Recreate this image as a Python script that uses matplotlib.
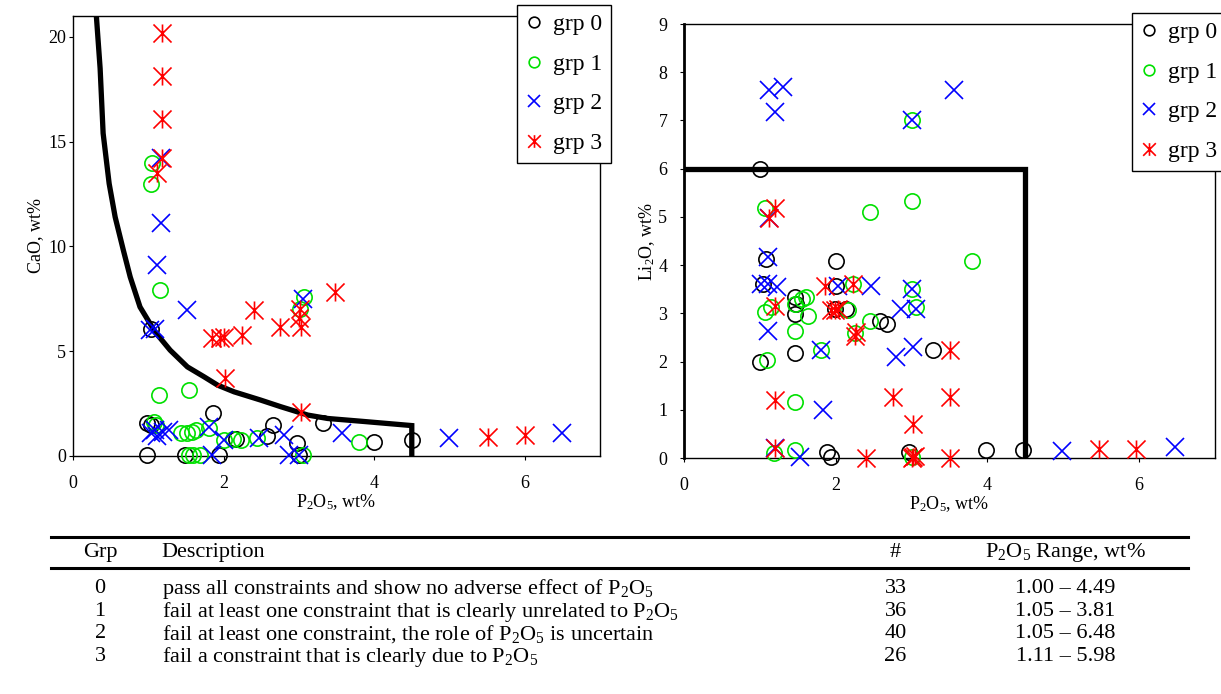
import numpy as np
import matplotlib.pyplot as plt
from matplotlib.path import Path
from matplotlib.lines import Line2D

plt.rcParams['font.family'] = ['Liberation Serif', 'DejaVu Serif']
plt.rcParams['mathtext.default'] = 'regular'

# CaO vs P2O5, by group
cao_x0 = [1.03, 0.98, 1.03, 0.98, 1.49, 1.86, 1.94, 2.17, 2.58, 2.66, 2.98, 3.0, 3.32, 4.0, 4.5]
cao_y0 = [6.08, 1.55, 1.5, 0.05, 0.05, 2.05, 0.05, 0.8, 0.95, 1.5, 0.6, 0.05, 1.56, 0.68, 0.76]
cao_x1 = [1.05, 1.04, 1.16, 1.14, 1.54, 1.07, 1.1, 1.43, 1.51, 1.58, 1.63, 1.8, 2.0, 2.12,
          2.23, 2.45, 1.54, 1.6, 1.69, 3.07, 3.02, 3.05, 3.8]
cao_y1 = [14.0, 13.0, 7.94, 2.9, 3.14, 1.63, 1.5, 1.11, 1.1, 1.15, 1.24, 1.32, 0.76, 0.8,
          0.76, 0.84, 0.05, 0.05, 0.05, 7.59, 7.03, 0.05, 0.68]
cao_x2 = [1.17, 1.17, 1.12, 1.51, 1.09, 1.02, 1.03, 1.09, 1.2, 1.27, 1.12, 1.8, 1.85, 2.0,
          2.47, 2.8, 2.87, 3.0, 3.05, 3.57, 5.0, 6.5]
cao_y2 = [14.2, 11.1, 9.1, 6.98, 6.08, 6.0, 1.08, 1.24, 1.16, 1.24, 0.95, 1.4, 0.05, 0.76,
          0.84, 1.0, 0.05, 0.05, 7.5, 1.11, 0.84, 1.08]
cao_x3 = [1.18, 1.18, 1.18, 1.18, 1.12, 2.4, 2.75, 3.01, 3.0, 3.03, 2.25, 1.95, 1.85, 2.0,
          2.02, 3.03, 3.48, 5.51, 6.0]
cao_y3 = [20.2, 18.15, 16.1, 14.2, 13.5, 6.98, 6.16, 7.03, 6.6, 6.16, 5.76, 5.65, 5.65, 5.68,
          3.7, 2.11, 7.82, 0.89, 1.0]

# Li2O vs P2O5, by group
li_x0 = [1.0, 1.08, 2.01, 1.04, 2.01, 1.46, 1.48, 1.46, 1.99, 2.14, 2.58, 2.67, 3.28, 1.0,
         1.46, 1.88, 1.94, 2.97, 3.98, 4.47]
li_y0 = [6.0, 4.13, 4.08, 3.61, 3.57, 3.33, 3.2, 2.99, 3.1, 3.1, 2.84, 2.78, 2.25, 1.99,
         2.18, 0.13, 0.03, 0.13, 0.17, 0.17]
li_x1 = [3.0, 1.07, 2.45, 3.0, 2.23, 3.0, 1.55, 1.61, 1.07, 1.15, 1.46, 1.64, 2.16, 3.06,
         2.45, 1.46, 1.09, 1.81, 1.46, 1.18, 1.46, 3.0, 3.8, 2.25]
li_y1 = [7.0, 5.18, 5.1, 5.32, 3.6, 3.5, 3.3, 3.33, 3.02, 3.13, 3.2, 2.95, 3.07, 3.13,
         2.85, 2.64, 2.03, 2.23, 1.16, 0.1, 0.17, 0.03, 4.09, 2.6]
li_x2 = [1.12, 1.31, 1.2, 3.0, 3.56, 1.12, 1.11, 1.02, 1.11, 1.22, 2.03, 2.47, 3.0, 2.86,
         3.06, 1.11, 3.02, 2.8, 1.81, 1.83, 1.2, 1.53, 4.98, 6.47]
li_y2 = [7.64, 7.69, 7.17, 7.0, 7.64, 4.98, 4.16, 3.61, 3.61, 3.54, 3.57, 3.57, 3.5, 3.09,
         3.1, 2.64, 2.3, 2.09, 2.23, 1.0, 0.2, 0.03, 0.14, 0.22]
li_x3 = [1.2, 1.12, 1.86, 2.23, 1.2, 1.94, 1.99, 2.03, 2.25, 2.27, 1.2, 2.75, 3.02, 3.5,
         3.5, 1.2, 2.4, 3.0, 3.02, 3.04, 3.5, 5.47, 5.96]
li_y3 = [5.19, 4.98, 3.57, 3.61, 3.16, 3.06, 3.06, 3.1, 2.54, 2.62, 1.2, 1.27, 0.7, 2.25,
         1.27, 0.2, 0.0, 0.0, 0.02, 0.05, 0.0, 0.18, 0.18]

# constraint boundaries
cao_lim_x = [0.31, 0.36, 0.40, 0.48, 0.56, 0.67, 0.76, 0.89, 1.09, 1.29, 1.52, 1.74, 1.92,
             2.14, 2.49, 2.76, 3.12, 3.38, 3.85, 4.5, 4.5]
cao_lim_y = [21.0, 18.5, 15.4, 13.0, 11.4, 9.8, 8.54, 7.11, 5.92, 5.05, 4.25, 3.78, 3.38,
             3.06, 2.67, 2.35, 1.95, 1.79, 1.65, 1.45, 0.0]
li_lim_x = [0.0, 4.5, 4.5]
li_lim_y = [6.0, 6.0, 0.0]

labels = ['grp 0', 'grp 1', 'grp 2', 'grp 3']

# table rows
grp_ids = ['0', '1', '2', '3']
descriptions = [
    'pass all constraints and show no adverse effect of P$_2$O$_5$',
    'fail at least one constraint that is clearly unrelated to P$_2$O$_5$',
    'fail at least one constraint, the role of P$_2$O$_5$ is uncertain',
    'fail a constraint that is clearly due to P$_2$O$_5$',
]
counts = ['33', '36', '40', '26']
ranges = ['1.00 \u2013 4.49', '1.05 \u2013 3.81', '1.05 \u2013 6.48', '1.11 \u2013 5.98']

# asterisk: an x with a vertical bar through it
star = Path([(-1, -1), (1, 1), (-1, 1), (1, -1), (0, -1), (0, 1)],
            [Path.MOVETO, Path.LINETO, Path.MOVETO, Path.LINETO, Path.MOVETO, Path.LINETO])

styles = [
    dict(marker='o', mfc='none', mec='black', ms=11, mew=1.2),
    dict(marker='o', mfc='none', mec='#00e000', ms=11, mew=1.2),
    dict(marker='x', color='#0000ff', ms=13, mew=1.2),
    dict(marker=star, color='#ff0000', ms=13, mew=1.2),
]

fig = plt.figure(figsize=(12.21, 6.94), dpi=100)
ax1 = fig.add_axes([0.0598, 0.343, 0.4316, 0.634])
ax2 = fig.add_axes([0.5602, 0.340, 0.4349, 0.6254])

cao = [(cao_x0, cao_y0), (cao_x1, cao_y1), (cao_x2, cao_y2), (cao_x3, cao_y3)]
li = [(li_x0, li_y0), (li_x1, li_y1), (li_x2, li_y2), (li_x3, li_y3)]

for ax, groups, lx, ly in [(ax1, cao, cao_lim_x, cao_lim_y), (ax2, li, li_lim_x, li_lim_y)]:
    ax.plot(lx, ly, color='black', lw=3.8, solid_joinstyle='miter', zorder=2)
    for (x, y), st, lab in zip(groups, styles, labels):
        ax.plot(x, y, ls='none', label=lab, clip_on=False, zorder=3, **st)
    ax.set_xlim(0, 7)
    ax.set_xticks([0, 2, 4, 6])
    ax.tick_params(direction='out', length=3, labelsize=13)
    ax.tick_params(axis='x', pad=11)
    ax.set_xlabel('P$_2$O$_5$, wt%', fontsize=13, labelpad=0)
    for s in ax.spines.values():
        s.set_linewidth(1.0)

ax1.set_ylim(0, 21)
ax1.set_yticks([0, 5, 10, 15, 20])
ax1.tick_params(axis='y', pad=2)
ax1.set_ylabel('CaO, wt%', fontsize=13, labelpad=3)
ax2.set_ylim(0, 9)
ax2.set_yticks(range(10))
ax2.tick_params(axis='y', pad=9)
ax2.set_ylabel('Li$_2$O, wt%', fontsize=13, labelpad=1)
ax2.spines['left'].set_linewidth(2.0)

leg_kw = dict(loc='upper left', fontsize=17, frameon=True, fancybox=False, framealpha=1,
              edgecolor='black', handlelength=0.7, handletextpad=0.45, borderpad=0.38,
              labelspacing=0.76, markerscale=0.7, borderaxespad=0)
lg1 = ax1.legend(bbox_to_anchor=(0.4234, 0.9928), bbox_transform=fig.transFigure, **leg_kw)
lg2 = ax2.legend(bbox_to_anchor=(0.9271, 0.9813), bbox_transform=fig.transFigure, **leg_kw)
for lg in (lg1, lg2):
    lg.get_frame().set_linewidth(1.0)
    lg.set_zorder(5)

# summary table under the plots
x_left, x_right = 0.042, 0.973
fig.add_artist(Line2D([x_left, x_right], [0.2262, 0.2262], color='black', lw=2.2))
fig.add_artist(Line2D([x_left, x_right], [0.1816, 0.1816], color='black', lw=2.2))
tfs = 16
hy = 0.2035
fig.text(0.082, hy, 'Grp', ha='center', va='center', fontsize=tfs)
fig.text(0.1325, hy, 'Description', ha='left', va='center', fontsize=tfs)
fig.text(0.7335, hy, '#', ha='center', va='center', fontsize=tfs)
fig.text(0.8725, hy, 'P$_2$O$_5$ Range, wt%', ha='center', va='center', fontsize=tfs)
row_y = [0.1515, 0.1183, 0.0865, 0.0535]
for g, d, n, r, y in zip(grp_ids, descriptions, counts, ranges, row_y):
    fig.text(0.082, y, g, ha='center', va='center', fontsize=tfs)
    fig.text(0.1325, y, d, ha='left', va='center', fontsize=tfs)
    fig.text(0.7335, y, n, ha='center', va='center', fontsize=tfs)
    fig.text(0.8725, y, r, ha='center', va='center', fontsize=tfs)

fig.savefig('out.png', dpi=100)
